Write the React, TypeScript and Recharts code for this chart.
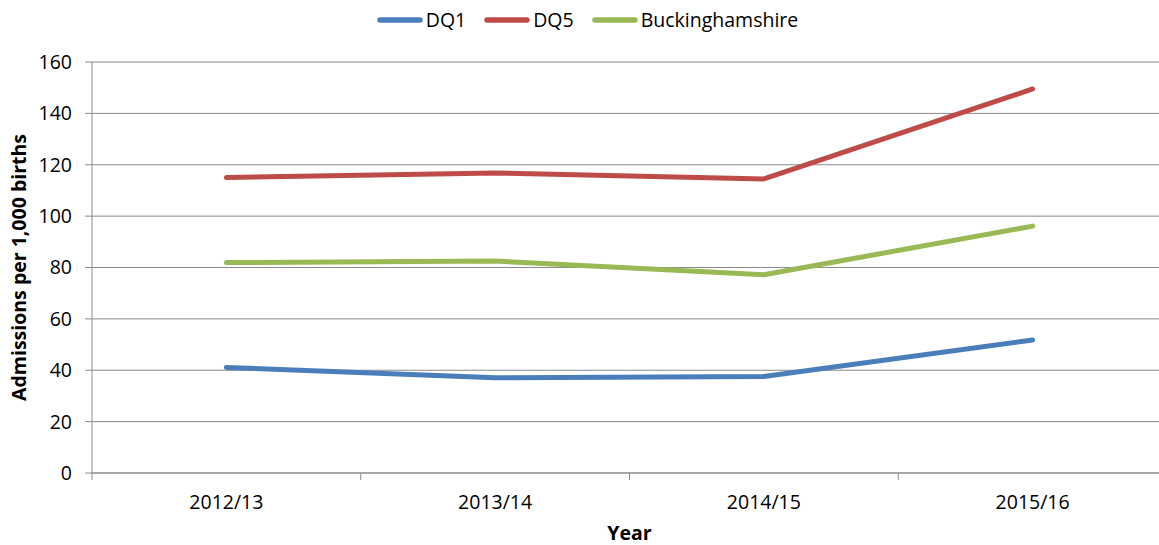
import React from "react";
import { LineChart, Line, XAxis, YAxis, CartesianGrid, Legend } from "recharts";

const years = ["2012/13", "2013/14", "2014/15", "2015/16"];
const dq1 = [41.1, 37.1, 37.6, 51.8];
const dq5 = [115.0, 116.8, 114.5, 149.5];
const bucks = [81.9, 82.5, 77.2, 96.1];
const yTicks = [0, 20, 40, 60, 80, 100, 120, 140, 160];

const series = [
  { key: "dq1", name: "DQ1", color: "#4a7ebb" },
  { key: "dq5", name: "DQ5", color: "#be4b48" },
  { key: "bucks", name: "Buckinghamshire", color: "#98b954" },
];

// x sits in the middle of each year slot, so the tick marks fall between years
const data = years.map((year, i) => ({
  x: i + 0.5,
  year,
  dq1: dq1[i],
  dq5: dq5[i],
  bucks: bucks[i],
}));

const xTicks = [0, 0.5, 1, 1.5, 2, 2.5, 3, 3.5, 4];

const FONT = "'Open Sans', sans-serif";
const GRID = "#8a8a8a";

function XTick(props: any) {
  const { x, y, payload } = props;
  const v = payload.value as number;
  if (Number.isInteger(v)) {
    return <line x1={x} y1={y} x2={x} y2={y + 7} stroke={GRID} strokeWidth={1} />;
  }
  const label = years[Math.floor(v)];
  return (
    <text x={x} y={y + 36} textAnchor="middle" fill="#000" fontSize={19.5} fontFamily={FONT}>
      {label}
    </text>
  );
}

function YTitle(props: any) {
  const { viewBox } = props;
  const cx = 18;
  const cy = viewBox.y + viewBox.height / 2;
  return (
    <text
      x={cx}
      y={cy}
      transform={`rotate(-90, ${cx}, ${cy})`}
      textAnchor="middle"
      dominantBaseline="central"
      fontSize={19.5}
      fontWeight="bold"
      fontFamily={FONT}
      fill="#000"
    >
      Admissions per 1,000 births
    </text>
  );
}

function LegendContent(props: any) {
  const order = series.map((s) => s.name);
  const items = [...(props.payload || [])].sort(
    (a: any, b: any) => order.indexOf(a.value) - order.indexOf(b.value)
  );
  return (
    <div
      style={{
        height: 62,
        display: "flex",
        justifyContent: "center",
        alignItems: "flex-start",
        gap: 18,
        paddingTop: 6,
        boxSizing: "border-box",
        fontFamily: FONT,
        fontSize: 19.5,
        color: "#000",
      }}
    >
      {items.map((it: any) => (
        <div key={it.value} style={{ display: "flex", alignItems: "center" }}>
          <svg width={46} height={10} style={{ marginRight: 3 }}>
            <line x1={3} y1={5} x2={43} y2={5} stroke={it.color} strokeWidth={5.5} strokeLinecap="round" />
          </svg>
          <span>{it.value}</span>
        </div>
      ))}
    </div>
  );
}

export default function App() {
  return (
    <div style={{ position: "absolute", left: 0, top: 0, width: 1159, height: 545, overflow: "hidden", background: "#fff" }}>
      <LineChart width={1175} height={545} data={data} margin={{ top: 0, right: 8, bottom: 0, left: 0 }}>
        <Legend
          verticalAlign="top"
          align="center"
          content={<LegendContent />}
          wrapperStyle={{ left: 0, top: 0, width: 1175 }}
        />
        <CartesianGrid vertical={false} stroke={GRID} strokeWidth={1} />
        <XAxis
          dataKey="x"
          type="number"
          domain={[0, 4]}
          ticks={xTicks}
          interval={0}
          tickSize={0}
          tickMargin={0}
          tickLine={false}
          tick={<XTick />}
          axisLine={{ stroke: GRID }}
          height={72}
          label={{
            value: "Year",
            position: "insideBottom",
            offset: 5,
            fontSize: 19.5,
            fontWeight: "bold",
            fontFamily: FONT,
            fill: "#000",
          }}
        />
        <YAxis
          domain={[0, 160]}
          ticks={yTicks}
          interval={0}
          width={92}
          tickSize={7}
          tickMargin={13}
          tickLine={{ stroke: GRID }}
          axisLine={{ stroke: GRID }}
          tick={{ fill: "#000", fontSize: 19.5, fontFamily: FONT }}
          label={<YTitle />}
        />
        {series.map((s) => (
          <Line
            key={s.key}
            dataKey={s.key}
            name={s.name}
            stroke={s.color}
            strokeWidth={5}
            strokeLinecap="round"
            strokeLinejoin="round"
            dot={false}
            activeDot={false}
            isAnimationActive={false}
            type="linear"
          />
        ))}
      </LineChart>
    </div>
  );
}
